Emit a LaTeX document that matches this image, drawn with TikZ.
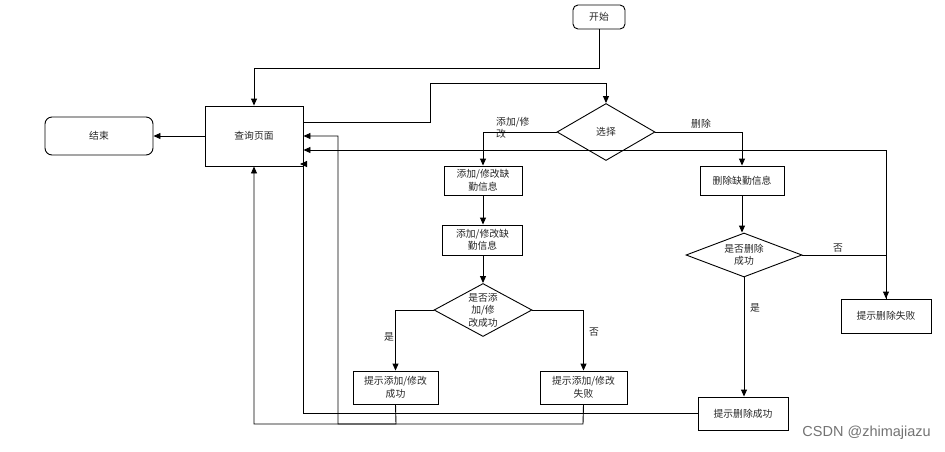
\documentclass[tikz,border=0pt]{standalone}
\usepackage{fontspec}
\setmainfont{Noto Sans CJK SC}
\newfontfamily\wmfont{Liberation Sans}
\usetikzlibrary{shapes.geometric,arrows.meta,calc}
\begin{document}
\begin{tikzpicture}[x=1pt,y=-1pt,
  every node/.style={font=\fontsize{9.8}{12.5}\selectfont, text=black!85},
  box/.style={draw, line width=0.9pt, inner sep=0pt, align=center},
  rbox/.style={box, rounded corners=5pt},
  dia/.style={draw, diamond, line width=0.9pt, inner sep=0pt},
  lbl/.style={inner sep=0pt, align=left},
  arr/.style={line width=0.9pt, -{Triangle[length=7pt,width=6pt]}},
  ln/.style={line width=0.9pt}]
\useasboundingbox (0,0) rectangle (945,451);
% nodes
\node[rbox, minimum width=52pt, minimum height=24pt] (start) at (599,17) {开始};
\node[rbox, minimum width=108pt, minimum height=38pt, rounded corners=7pt] (endn) at (99,136) {结束};
\node[box, minimum width=98pt, minimum height=60pt] (query) at (254,136) {查询页面};
\node[dia, minimum width=98pt, minimum height=57pt] (sel) at (606,132) {};
\node[lbl] (selt) at (sel) {选择};
\node[box, minimum width=78pt, minimum height=29pt] (ad1) at (483,180.5) {添加/修改缺\\勤信息};
\node[box, minimum width=80pt, minimum height=30pt] (ad2) at (482.5,240) {添加/修改缺\\勤信息};
\node[dia, minimum width=98pt, minimum height=53pt] (adq) at (483,310) {};
\node[lbl, align=center] (adqt) at (adq) {是否添\\加/修\\改成功};
\node[box, minimum width=85pt, minimum height=33pt] (ok1) at (395.5,387.5) {提示添加/修改\\成功};
\node[box, minimum width=87pt, minimum height=33pt] (fail1) at (583.5,387.5) {提示添加/修改\\失败};
\node[box, minimum width=84pt, minimum height=29pt] (del) at (742,180.5) {删除缺勤信息};
\node[dia, minimum width=116pt, minimum height=44pt] (delq) at (744,255) {};
\node[lbl, align=center] (delqt) at (delq) {是否删除\\成功};
\node[box, minimum width=90pt, minimum height=34pt] (delfail) at (886,316) {提示删除失败};
\node[box, minimum width=90pt, minimum height=33pt] (delok) at (743,413.5) {提示删除成功};
% labels
\node[lbl, anchor=north west] (l1) at (496,117) {添加/修\\改};
\node[lbl, anchor=west] (l2) at (691,124) {删除};
\node[lbl] (l3) at (389,337) {是};
\node[lbl] (l4) at (594,332) {否};
\node[lbl] (l5) at (838,248) {否};
\node[lbl] (l6) at (755,308) {是};
\node[lbl, font=\wmfont\fontsize{14.5}{15}\selectfont, text=black!55, anchor=east] (wm) at (931,433) {CSDN @zhimajiazu};
% connectors
\draw[arr] (start.south) -- (599,68) -| (query.north);
\draw[arr] (query.east |- 0,122) -- (430,122) |- (606,83) -- (sel.north);
\draw[arr] (query.west) -- (endn.east);
\draw[arr] (sel.west) -| (ad1.north);
\draw[arr] (sel.east) -| (del.north);
\draw[arr] (ad1.south) -- (ad1.south |- ad2.north);
\draw[arr] (ad2.south -| ad1.south) -- (adq.north);
\draw[arr] (adq.west) -| (ok1.north);
\draw[arr] (adq.east) -| (fail1.north);
\draw[arr] (del.south) -- (del.south |- delq.north);
\draw[arr] (delq.east) -| (delfail.north);
\draw[arr] (delq.south) -- (delq.south |- delok.north);
\draw[arr] (delfail.north) |- (query.east |- 0,150);
\draw[ln] (delok.west) -| (303,164);
\draw[arr] (304,164) -- (300,164);
\draw[arr] (ok1.south) -- (396,424) -| (query.south);
\draw[arr] (fail1.south) -- (583,424) -| (338,136) -- (query.east);
\end{tikzpicture}
\end{document}
